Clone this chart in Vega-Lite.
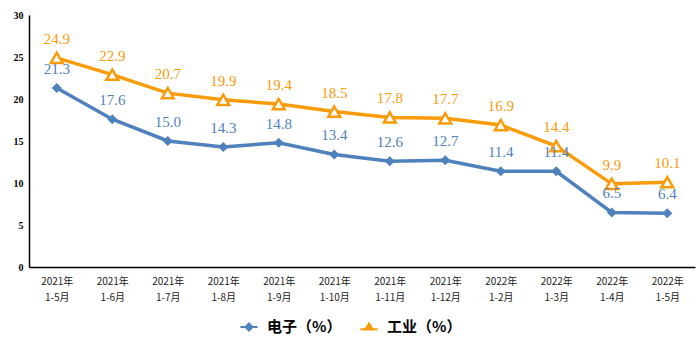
{
  "$schema": "https://vega.github.io/schema/vega-lite/v6.json",
  "width": 666,
  "height": 252,
  "autosize": {"type": "none"},
  "padding": {"left": 29, "top": 15, "right": 5, "bottom": 93},
  "background": "white",
  "config": {"view": {"stroke": null}},
  "data": {"values": [
    {"m": "2021年|1-5月", "s": "电子（%）", "v": 21.3},
    {"m": "2021年|1-6月", "s": "电子（%）", "v": 17.6},
    {"m": "2021年|1-7月", "s": "电子（%）", "v": 15.0},
    {"m": "2021年|1-8月", "s": "电子（%）", "v": 14.3},
    {"m": "2021年|1-9月", "s": "电子（%）", "v": 14.8},
    {"m": "2021年|1-10月", "s": "电子（%）", "v": 13.4},
    {"m": "2021年|1-11月", "s": "电子（%）", "v": 12.6},
    {"m": "2021年|1-12月", "s": "电子（%）", "v": 12.7},
    {"m": "2022年|1-2月", "s": "电子（%）", "v": 11.4},
    {"m": "2022年|1-3月", "s": "电子（%）", "v": 11.4},
    {"m": "2022年|1-4月", "s": "电子（%）", "v": 6.5},
    {"m": "2022年|1-5月", "s": "电子（%）", "v": 6.4},
    {"m": "2021年|1-5月", "s": "工业（%）", "v": 24.9},
    {"m": "2021年|1-6月", "s": "工业（%）", "v": 22.9},
    {"m": "2021年|1-7月", "s": "工业（%）", "v": 20.7},
    {"m": "2021年|1-8月", "s": "工业（%）", "v": 19.9},
    {"m": "2021年|1-9月", "s": "工业（%）", "v": 19.4},
    {"m": "2021年|1-10月", "s": "工业（%）", "v": 18.5},
    {"m": "2021年|1-11月", "s": "工业（%）", "v": 17.8},
    {"m": "2021年|1-12月", "s": "工业（%）", "v": 17.7},
    {"m": "2022年|1-2月", "s": "工业（%）", "v": 16.9},
    {"m": "2022年|1-3月", "s": "工业（%）", "v": 14.4},
    {"m": "2022年|1-4月", "s": "工业（%）", "v": 9.9},
    {"m": "2022年|1-5月", "s": "工业（%）", "v": 10.1}
  ]},
  "encoding": {
    "x": {
      "field": "m", "type": "nominal", "sort": null,
      "scale": {"paddingInner": 0, "paddingOuter": 0},
      "axis": {
        "title": null, "labelAngle": 0, "ticks": false,
        "domainColor": "black", "domainWidth": 1.5,
        "labelExpr": "split(datum.value, '|')",
        "labelFont": "Noto Sans CJK SC", "labelFontSize": 10, "labelColor": "#222",
        "labelPadding": 9, "labelLineHeight": 16
      }
    },
    "y": {
      "field": "v", "type": "quantitative",
      "scale": {"domain": [0, 30]},
      "axis": {
        "title": null, "ticks": false, "grid": false,
        "values": [0, 5, 10, 15, 20, 25, 30],
        "domainColor": "black", "domainWidth": 1.5,
        "labelFont": "Liberation Serif", "labelFontWeight": "bold", "labelFontSize": 10,
        "labelColor": "black", "labelPadding": 6
      }
    },
    "color": {
      "field": "s", "type": "nominal", "sort": ["电子（%）", "工业（%）"],
      "scale": {"domain": ["电子（%）", "工业（%）"], "range": ["#4f81bd", "#fa9b0a"]}
    }
  },
  "layer": [
    {
      "mark": {"type": "line", "strokeWidth": 3.5},
      "encoding": {
        "color": {
          "field": "s", "type": "nominal",
          "legend": {
            "title": null, "orient": "none", "direction": "horizontal",
            "legendX": 210, "legendY": 302, "columnPadding": 14,
            "labelFont": "Noto Sans CJK SC", "labelFontSize": 15, "labelFontWeight": "bold",
            "labelColor": "black", "symbolSize": 300, "symbolStrokeWidth": 2,
            "labelOffset": 8,
            "encode": {
              "symbols": {
                "update": {
                  "shape": {"signal": "datum.value === '电子（%）' ? 'M-1,0H-0.45M0.45,0H1M0,-0.4L0.4,0L0,0.4L-0.4,0Z' : 'M-1,0.25H-0.45M0.45,0.25H1M0,-0.4L0.42,0.3L-0.42,0.3Z'"},
                  "fill": {"signal": "datum.value === '电子（%）' ? '#4f81bd' : 'white'"}
                }
              }
            }
          }
        }
      }
    },
    {
      "transform": [{"filter": "datum.s === '电子（%）'"}],
      "mark": {"type": "point", "shape": "diamond", "filled": true, "size": 100, "opacity": 1},
      "encoding": {"color": {"field": "s", "type": "nominal", "legend": null}}
    },
    {
      "transform": [{"filter": "datum.s === '工业（%）'"}],
      "mark": {"type": "point", "shape": "triangle-up", "filled": true, "fill": "white", "strokeWidth": 2.5, "size": 140, "opacity": 1},
      "encoding": {"stroke": {"field": "s", "type": "nominal", "scale": {"domain": ["电子（%）", "工业（%）"], "range": ["#4f81bd", "#fa9b0a"]}, "legend": null}, "color": {"value": null}}
    },
    {
      "mark": {"type": "text", "dy": -19, "font": "Liberation Serif", "fontSize": 15},
      "encoding": {
        "text": {"field": "v", "type": "quantitative", "format": ".1f"},
        "color": {"field": "s", "type": "nominal", "legend": null}
      }
    }
  ]
}
